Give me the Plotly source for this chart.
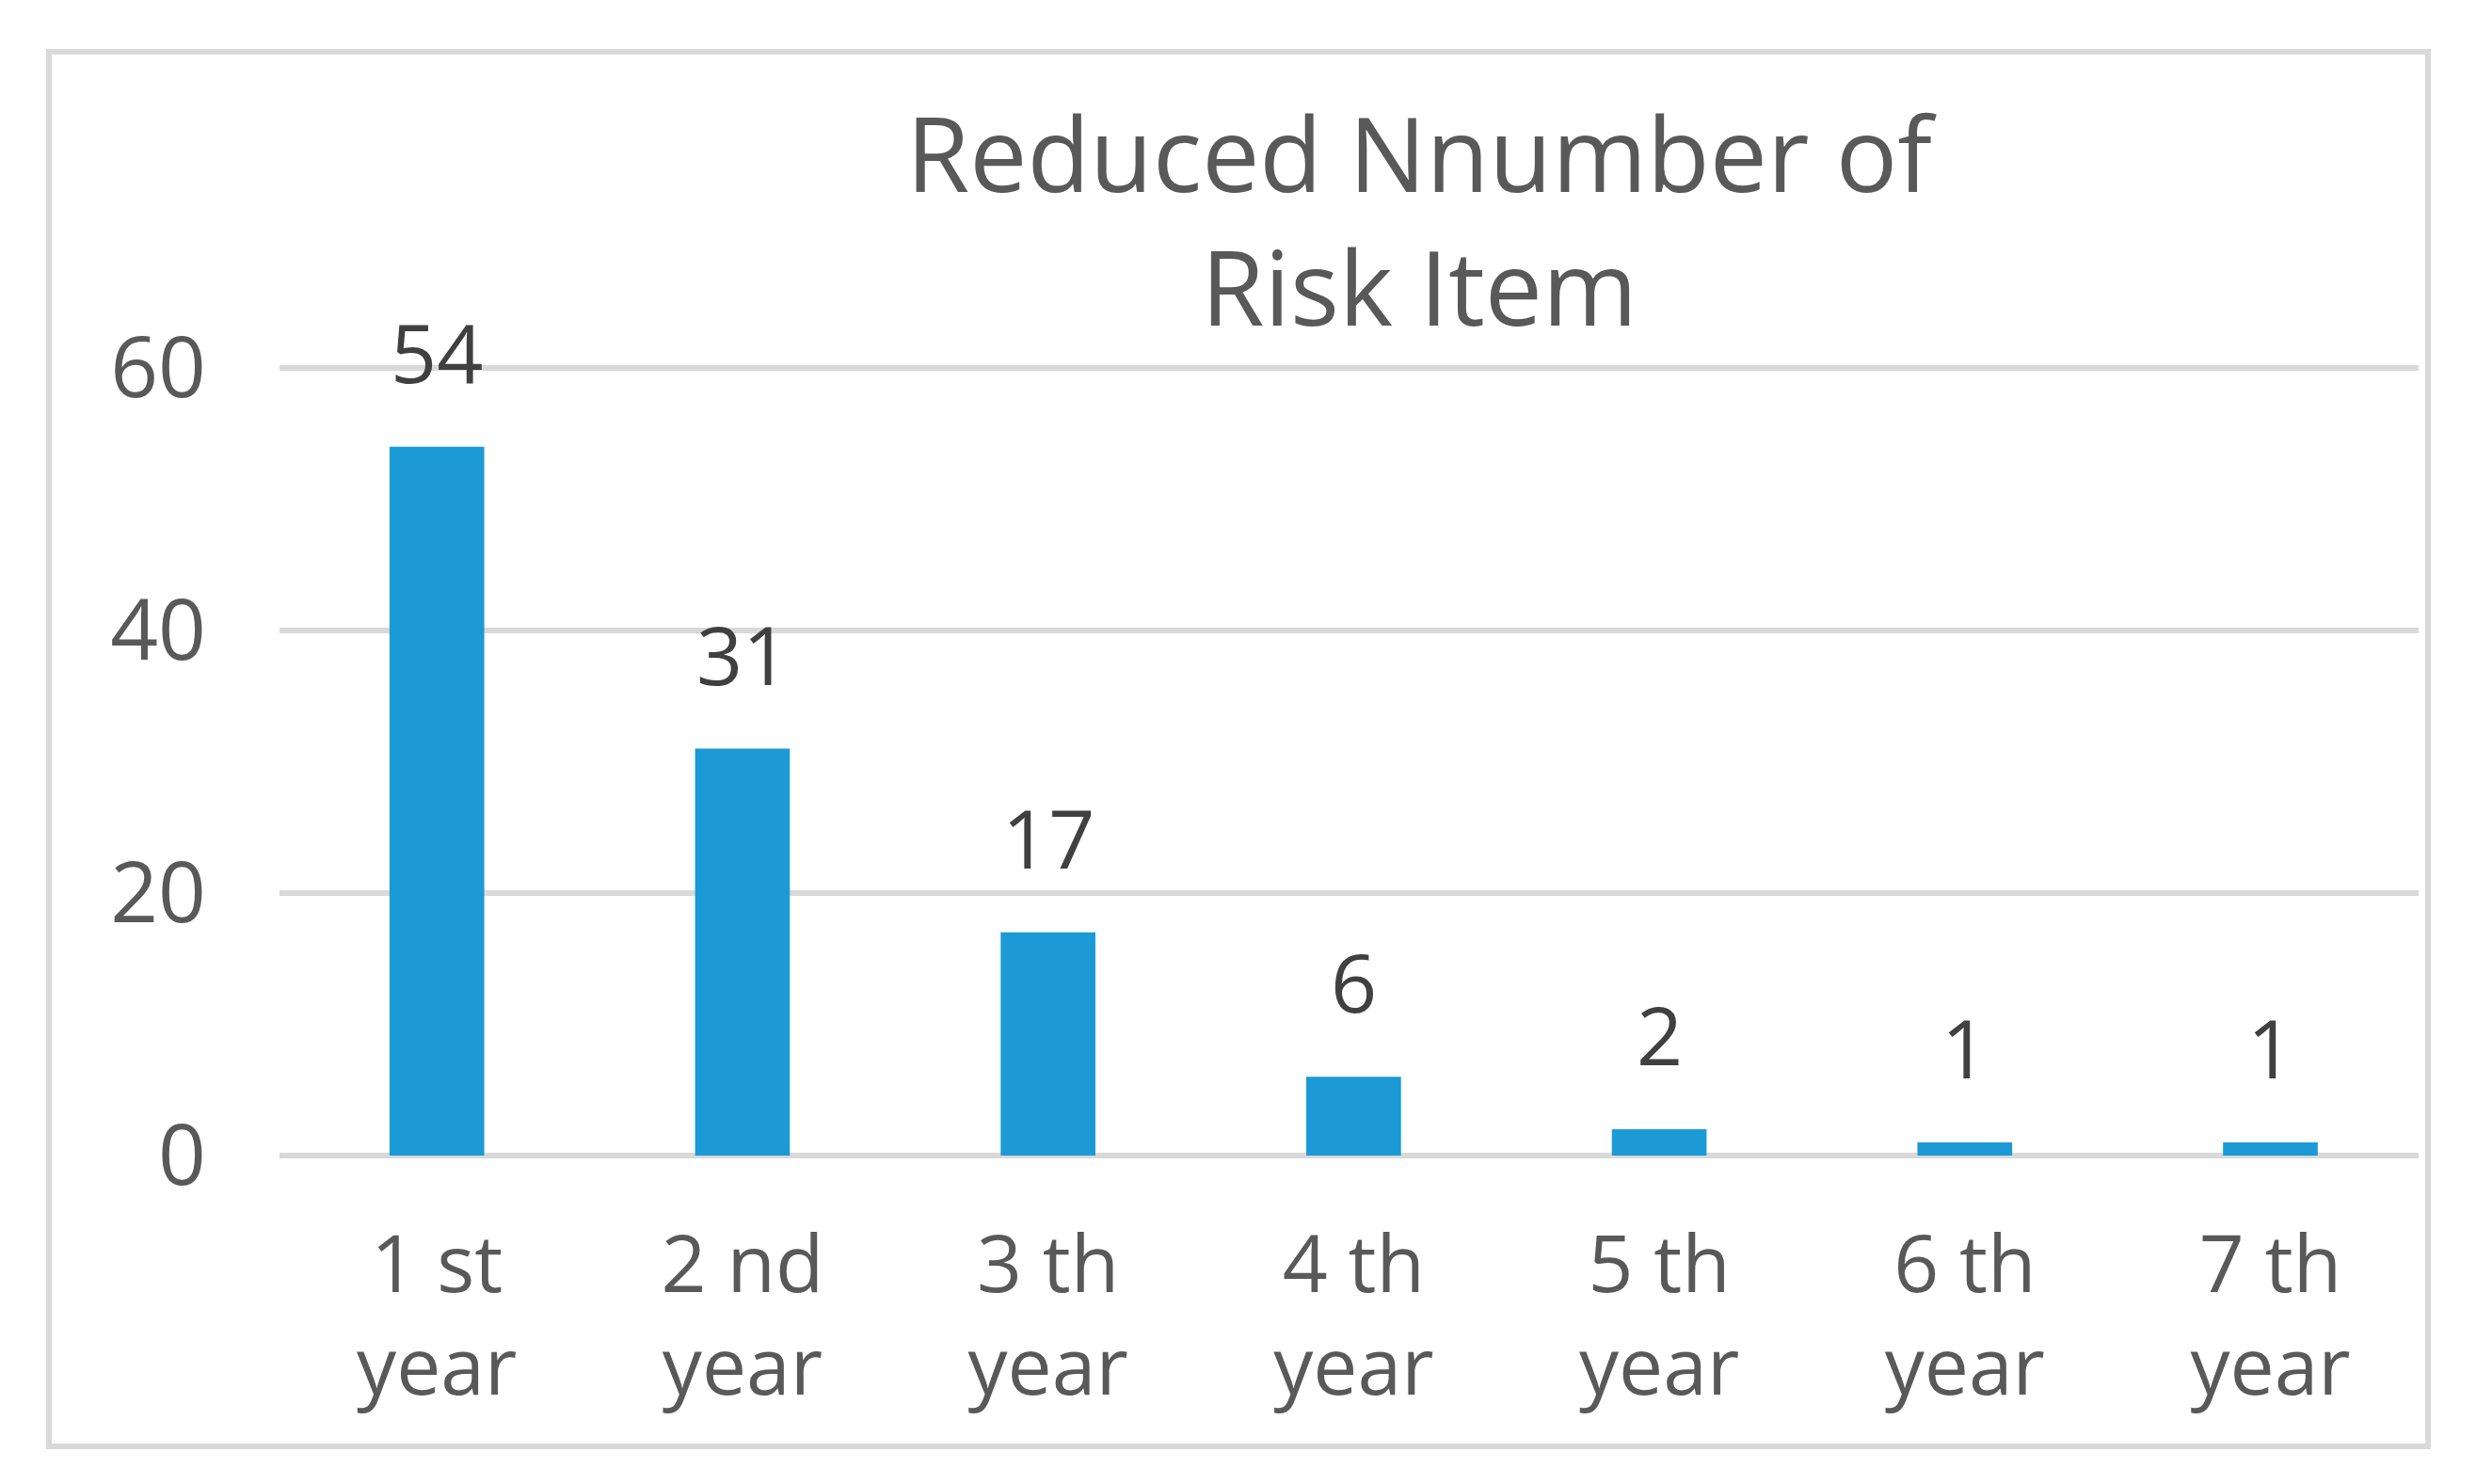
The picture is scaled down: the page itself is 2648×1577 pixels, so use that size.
import plotly.graph_objects as go

categories = ["1 st<br>year", "2 nd<br>year", "3 th<br>year", "4 th<br>year",
              "5 th<br>year", "6 th<br>year", "7 th<br>year"]
values = [54, 31, 17, 6, 2, 1, 1]
y_ticks = [0, 20, 40, 60]

W, H = 2648, 1577
L, R, T, B = 297, 78, 384, 349
FONT = "Open Sans"
GREY = "#595959"
BAR = "#1b9ad6"
GRID = "#d9d9d9"
Y_MAX = 60.5

pw = W - L - R
ph = H - T - B

fig = go.Figure()
fig.add_trace(go.Bar(x=categories, y=values, marker=dict(color=BAR, line=dict(width=0)),
                     width=0.31, hoverinfo="skip"))

for c, v in zip(categories, values):
    fig.add_annotation(x=c, y=v, text=str(v), showarrow=False, yanchor="bottom",
                       yshift=41, font=dict(family=FONT, size=86, color="#404040"))

def px_x(p):
    return (p - L) / pw
def px_y(p):
    return (H - B - p) / ph

# outer chart border
fig.add_shape(type="rect", xref="paper", yref="paper",
              x0=px_x(52), x1=px_x(2580), y0=px_y(1537), y1=px_y(55),
              line=dict(color=GRID, width=6), layer="below")

fig.update_layout(
    width=W, height=H,
    margin=dict(l=L, r=R, t=T, b=B),
    paper_bgcolor="white", plot_bgcolor="white",
    showlegend=False,
    title=dict(text="Reduced Nnumber of<br>Risk Item", x=1508 / W, xanchor="center",
               xref="container", yref="container", y=1 - 204 / H, yanchor="top",
               font=dict(family=FONT, size=109, color=GREY)),
    font=dict(family=FONT, color=GREY),
)
fig.update_xaxes(showgrid=False, showline=False, ticks="", ticklabelstandoff=60,
                 range=[-0.515, 6.485],
                 tickfont=dict(family=FONT, size=84, color=GREY))
fig.update_yaxes(range=[0, Y_MAX], tickvals=y_ticks, showgrid=True, gridcolor=GRID, gridwidth=6,
                 zeroline=True, zerolinecolor=GRID, zerolinewidth=6, showline=False,
                 ticks="", ticklabelstandoff=77,
                 tickfont=dict(family=FONT, size=89, color=GREY))

fig.write_html("out.html", config={"displayModeBar": False},
               post_script="document.body.style.margin='0';")
